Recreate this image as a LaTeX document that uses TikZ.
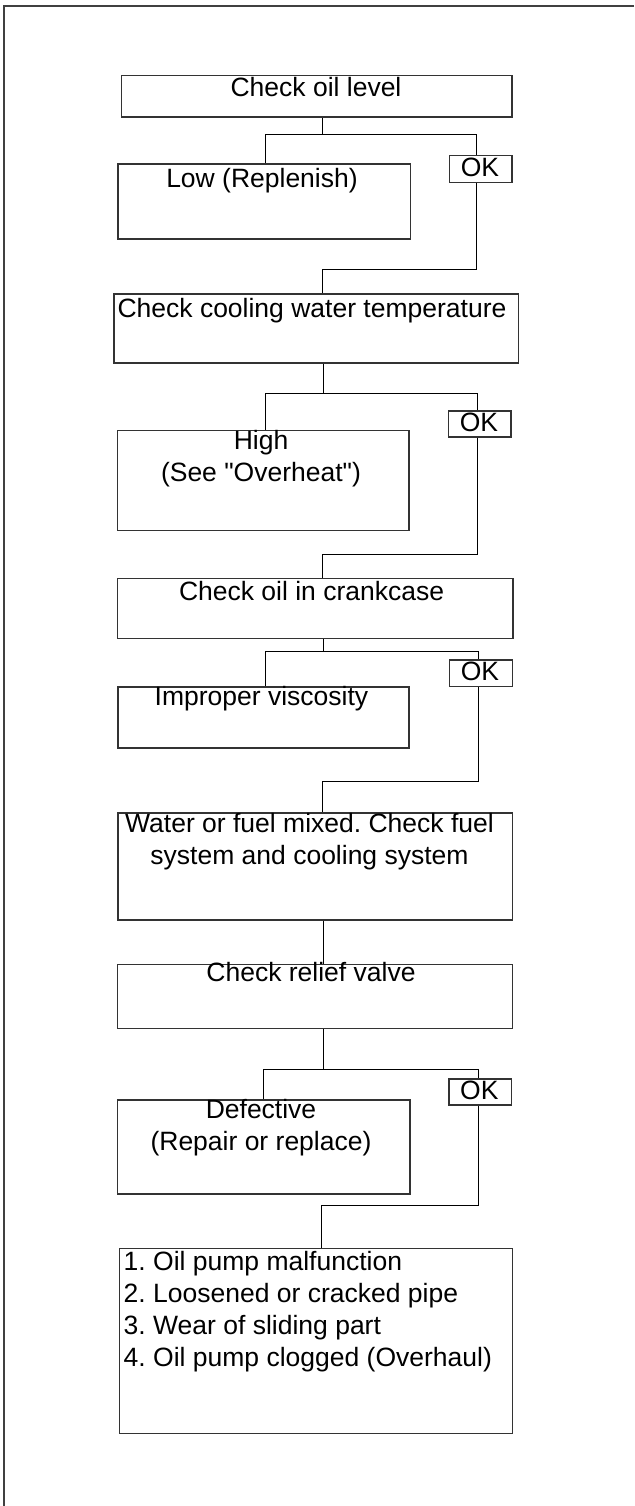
\documentclass[tikz,border=0pt]{standalone}
\usepackage{fontspec}
\setmainfont{Liberation Sans}
\begin{document}
\begin{tikzpicture}[x=0.5pt,y=-0.5pt,
  box/.style={draw=black!80, line width=0.75pt, inner sep=0pt, anchor=north west},
  okbox/.style={box},
  txt/.style={inner sep=0pt, font=\fontsize{13.25pt}{15.9pt}\selectfont\frenchspacing, align=center, anchor=base},
  link/.style={draw=black, line width=0.5pt},
  frame/.style={draw=black!75, line width=1pt}]
\useasboundingbox (0,0) rectangle (634,1506);

% page frame (open on the right and bottom)
\draw[frame] (634,5.7) -- (3.7,5.7) -- (3.7,1506);

% ---------- step 1: oil level ----------
\node[box, minimum width=195.25pt, minimum height=20.8pt] (b1) at (120.5,74.7) {};
\node[txt] (b1t) at (316,96) {Check oil level};
\node[box, minimum width=146.15pt, minimum height=37.65pt] (low) at (117.3,163) {};
\node[txt] (lowt) at (262,187.7) {Low (Replenish)};
\node[okbox, minimum width=31.15pt, minimum height=13.5pt] (ok1) at (448.8,154.7) {};
\node[txt] (ok1t) at (480,176.7) {OK};

% ---------- step 2: cooling water ----------
\node[box, minimum width=202.2pt, minimum height=34.35pt] (b2) at (113.2,293.3) {};
\node[txt] (b2t) at (312,317.3) {Check cooling water temperature};
\node[box, minimum width=145.75pt, minimum height=50pt] (high) at (116.9,429.7) {};
% multi-line nodes: the base anchor sits on the last line
\node[txt] (hight) at (261,481.7) {High\\(See \textquotedbl Overheat\textquotedbl)};
\node[okbox, minimum width=31.35pt, minimum height=13.15pt] (ok2) at (447.6,410) {};
\node[txt] (ok2t) at (479,431.7) {OK};

% ---------- step 3: oil in crankcase ----------
\node[box, minimum width=197.75pt, minimum height=30pt] (b3) at (116.5,577.7) {};
\node[txt] (b3t) at (311.6,600.7) {Check oil in crankcase};
\node[box, minimum width=145.55pt, minimum height=30.65pt] (visc) at (117.3,686) {};
\node[txt] (visct) at (261.5,705) {Improper viscosity};
\node[okbox, minimum width=31.35pt, minimum height=13.35pt] (ok3) at (448.8,659) {};
\node[txt] (ok3t) at (480,680) {OK};

% ---------- step 4: contamination ----------
\node[box, minimum width=197.1pt, minimum height=53.35pt] (b4) at (117.3,812.3) {};
\node[txt] (b4t) at (309.5,864) {Water or fuel mixed. Check fuel\\system and cooling system};

% ---------- step 5: relief valve ----------
\node[box, minimum width=197.3pt, minimum height=32pt] (b5) at (116.9,963.7) {};
\node[txt] (b5t) at (311,981.7) {Check relief valve};
\node[box, minimum width=146.15pt, minimum height=47pt] (defect) at (116.9,1099) {};
\node[txt] (defectt) at (261,1150) {Defective\\(Repair or replace)};
\node[okbox, minimum width=31.35pt, minimum height=13pt] (ok4) at (448,1078.3) {};
\node[txt] (ok4t) at (479.3,1099.3) {OK};

% ---------- remaining causes ----------
\node[box, minimum width=196.5pt, minimum height=92.5pt] (causes) at (118.5,1247.7) {};
\node[txt, align=left, anchor=base west, font=\fontsize{13.25pt}{16pt}\selectfont\frenchspacing] (causest) at (123.3,1366.7)
  {1. Oil pump malfunction\\2. Loosened or cracked pipe\\3. Wear of sliding part\\4. Oil pump clogged (Overhaul)};

% ---------- junction points ----------
\coordinate (s1) at (322.3,134.3);
\coordinate (l1) at (265.7,134.3);
\coordinate (r1) at (476.3,134.3);
\coordinate (m1) at (322.7,269.3);

\coordinate (s2) at (323,393.3);
\coordinate (l2) at (265.7,393.3);
\coordinate (r2) at (477.2,393.3);
\coordinate (m2) at (322.3,554);

\coordinate (s3) at (323,651);
\coordinate (l3) at (265.7,651);
\coordinate (r3) at (478,651);
\coordinate (m3) at (322.3,781);

\coordinate (s4) at (323,900);

\coordinate (s5) at (323,1069);
\coordinate (l5) at (263.2,1069);
\coordinate (r5) at (478,1069);
\coordinate (m5) at (321.5,1205.3);

% ---------- connectors ----------
\draw[link] (b1.south -| s1) -- (s1);
\draw[link] (low.north -| l1) -- (l1) -- (r1) -- (ok1.north -| r1);
\draw[link] (ok1.south -| r1) |- (m1) -- (b2.north -| m1);

\draw[link] (b2.south -| s2) -- (s2);
\draw[link] (high.north -| l2) -- (l2) -- (r2) -- (ok2.north -| r2);
\draw[link] (ok2.south -| r2) |- (m2) -- (b3.north -| m2);

\draw[link] (b3.south -| s3) -- (s3);
\draw[link] (visc.north -| l3) -- (l3) -- (r3) -- (ok3.north -| r3);
\draw[link] (ok3.south -| r3) |- (m3) -- (b4.north -| m3);

\draw[link] (b4.south -| s4) -- (b5.north -| s4);

\draw[link] (b5.south -| s5) -- (s5);
\draw[link] (defect.north -| l5) -- (l5) -- (r5) -- (ok4.north -| r5);
\draw[link] (ok4.south -| r5) |- (m5) -- (causes.north -| m5);
\end{tikzpicture}
\end{document}
